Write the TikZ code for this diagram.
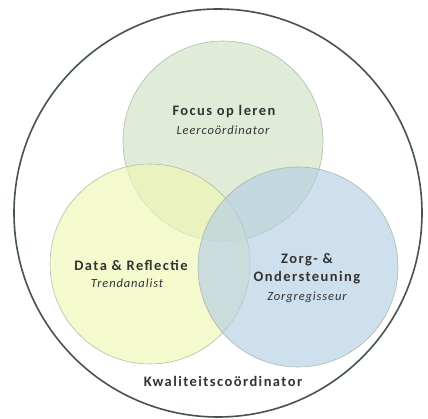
\documentclass[tikz,border=0pt]{standalone}
\usepackage{fontspec}
\setmainfont{Carlito}
\usepackage{tikz}
\usetikzlibrary{positioning}
\definecolor{leergroen}{RGB}{210,226,196}
\definecolor{datageel}{RGB}{240,246,180}
\definecolor{zorgblauw}{RGB}{180,206,228}
\definecolor{randgrijs}{RGB}{150,165,150}
\definecolor{buitenrand}{RGB}{70,85,75}
\tikzset{
	bol/.style={circle, minimum size=200pt, inner sep=0pt, draw=randgrijs, line width=0.6pt, fill opacity=0.65, draw opacity=0.7},
	titel/.style={font=\fontsize{14.5}{18}\selectfont\bfseries\addfontfeatures{LetterSpace=10}, text=black!80, align=center, inner sep=0pt},
	rol/.style={font=\fontsize{12.5}{15}\selectfont\itshape\addfontfeatures{LetterSpace=7}, text=black!80, inner sep=0pt}
}
\begin{document}
\begin{tikzpicture}[x=1pt, y=-1pt]
		%%%%% START %%%%%
		\useasboundingbox[fill=white] (0, 0) rectangle (428, 419);
		
		\draw[line width=1.6pt, color=buitenrand] (218, 213) circle (204);
		
		\node[bol, fill=leergroen] (leren) at (223, 141) {};
		\node[bol, fill=datageel] (data) at (150, 264) {};
		\node[bol, fill=zorgblauw] (zorg) at (298, 267) {};
		
		\node[titel] (lerentitel) at (224, 112) {Focus op leren};
		\node[rol] (lerenrol) at (223, 130) {Leercoördinator};
		
		\node[titel] (datatitel) at (131, 265) {Data \& Reflectie};
		\node[rol] (datarol) at (127, 283) {Trendanalist};
		
		\node[titel] (zorgtitel) at (307, 269) {Zorg- \&\\Ondersteuning};
		\node[rol] (zorgrol) at (307, 297) {Zorgregisseur};
		
		\node[titel] (kwaliteit) at (223, 381) {Kwaliteitscoördinator};
		
		%%%%% END %%%%%
	\end{tikzpicture}
\end{document}
